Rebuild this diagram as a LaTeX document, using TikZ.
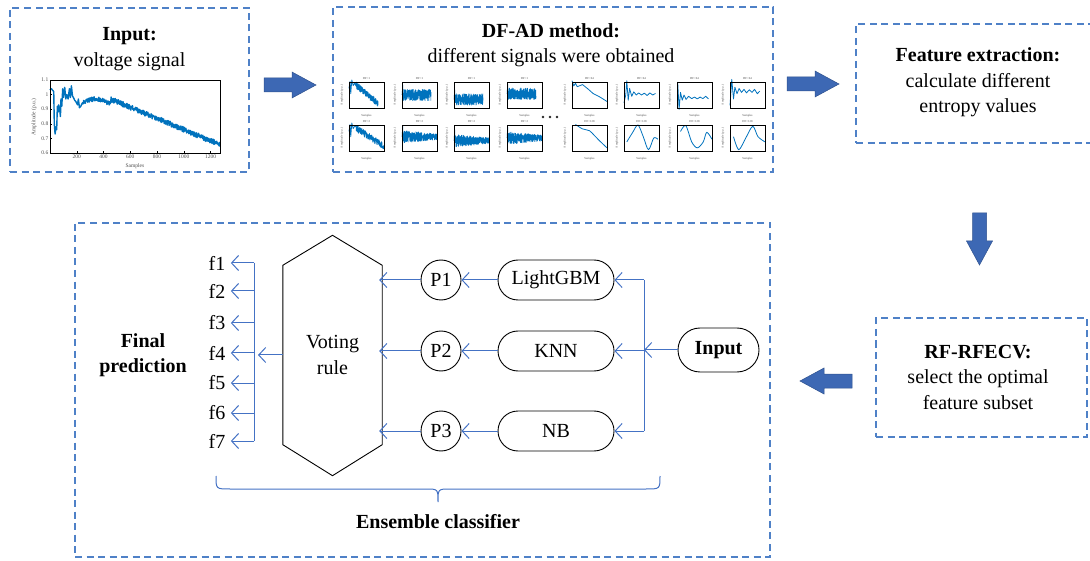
\documentclass[tikz,border=0pt]{standalone}
\usepackage{fontspec}
\setmainfont{Liberation Serif}
\usetikzlibrary{positioning,arrows.meta,calc}

\definecolor{dashblue}{RGB}{79,129,199}
\definecolor{lineblue}{RGB}{68,114,196}
\definecolor{arrowblue}{RGB}{61,104,180}
\definecolor{arrowedge}{RGB}{47,82,143}
\definecolor{sigblue}{RGB}{0,114,189}

\tikzset{
  dashbox/.style={draw=dashblue, line width=1.1pt, dash pattern=on 7pt off 4.5pt, inner sep=0pt},
  flow/.style={lineblue, line width=1pt, -{Straight Barb[length=7pt,width=15pt]}},
  bus/.style={lineblue, line width=1pt},
  model/.style={draw, line width=0.9pt, rounded corners=20pt, minimum width=116pt, minimum height=40pt},
  pnode/.style={draw, circle, line width=0.9pt, minimum size=40pt, inner sep=0pt},
  fatarrow/.style={fill=arrowblue, draw=arrowedge, line width=0.5pt},
  sig/.style={sigblue, line width=1.4pt, line join=round},
  axfont/.style={font=\fontsize{5.5}{6}\selectfont, text=black!70, inner sep=1.5pt},
  minifont/.style={font=\fontsize{3}{3.5}\selectfont, text=black!70, inner sep=0pt},
}

\newcommand{\blockarrow}[2]{\filldraw[fatarrow, shift={#1}, rotate=#2] (0,-7) -- (28,-7) -- (28,-13) -- (52,0) -- (28,13) -- (28,7) -- (0,7) -- cycle;}

\newcommand{\miniplot}[4]{%
  \begin{scope}[shift={(#1pt,-#2pt)}, x=35pt, y=26pt]
    #4
    \draw[line width=0.5pt] (0,0) rectangle (1,1);
    \node[minifont] at (0.5,1.12) {#3};
    \node[minifont] at (0.5,-0.3) {Samples};
    \node[minifont, rotate=90] at (-0.2,0.5) {Amplitude (p.u.)};
  \end{scope}}

\newcommand{\decaysig}[1]{\draw[sig, line width=0.8pt] (0,0.75) -- (0.03,1.02) -- (0.05,0.55) -- (0.08,1.08) -- (0.12,0.86) -- (0.16,0.96) -- plot[domain=0.2:#1, samples=200] (\x,{0.88-(\x-0.2)*0.7/(#1-0.2)+0.13*rand});}
\newcommand{\noisesig}[2]{\draw[sig, line width=0.6pt] (0,#1) -- (0.02,{#1+0.38}) -- plot[domain=0.03:#2, samples=320] (\x,{#1+0.22*rand});}
\newcommand{\fadesig}[1]{\draw[sig, line width=0.6pt] (0,#1) -- (0.02,{#1+0.42}) -- plot[domain=0.03:1, samples=340] (\x,{#1+0.25*(1-0.55*\x)*rand});}

\begin{document}
\begin{tikzpicture}[x=1pt, y=-1pt, font=\fontsize{20}{25.5}\selectfont]
\pgfmathsetseed{7}
\useasboundingbox (0,0) rectangle (1090,561);

% input signal
\node[dashbox, minimum width=239pt, minimum height=164pt] (inbox) at (129.5,90) {};
\node[align=center] (intitle) at (129.5,49) {\textbf{Input:}\\voltage signal};
\begin{scope}[shift={(50pt,-240.6pt)}, x=0.13386pt, y=146pt]
  \draw[sig] plot coordinates {(0,1.03) (10,1.04) (20,1.03) (28,1.02) (32,0.8) (38,0.73) (45,0.78) (50,0.76) (55,0.92) (60,0.88) (65,0.93) (72,0.9) (78,0.85) (82,0.97) (88,0.92) (95,1.04) (100,0.98) (110,1.05) (118,0.97) (125,1.0) (135,0.97) (145,1.04) (152,0.98) (160,1.06) (168,0.99) (175,0.98) (185,0.96) (195,0.95) (205,0.93) (212,0.97) (220,0.91) (230,0.92) (240,0.94)}
    -- plot[domain=245:450, samples=100] (\x,{0.94+0.03*sin((\x-240)*0.9)+0.015*rand})
    -- plot[domain=455:1270, samples=400] (\x,{0.97-(\x-450)*0.000384+0.018*rand});
  \draw[line width=0.6pt] (0,0.6) rectangle (1270,1.1);
  \foreach \t in {200,400,...,1200} {
    \draw[line width=0.4pt] (\t,0.6) -- ++(0,0.015);
    \node[axfont, below] at (\t,0.6) {\t};
  }
  \foreach \v/\lab in {0.6/0.6,0.7/0.7,0.8/0.8,0.9/0.9,1/1,1.1/1.1} {
    \draw[line width=0.4pt] (0,\v) -- ++(15,0);
    \node[axfont, left] at (0,\v) {\lab};
  }
\end{scope}
\node[axfont] (inxlab) at (135,166) {Samples};
\node[axfont, rotate=90] (inylab) at (34,117) {Amplitude (p.u.)};

% DF-AD signals
\node[dashbox, minimum width=440pt, minimum height=165pt] (dfbox) at (553,89.5) {};
\node[align=center] (dftitle) at (551,45) {\textbf{DF-AD method:}\\different signals were obtained};
\miniplot{349}{108}{DF=1}{\decaysig{0.83}}
\miniplot{402}{108}{DF=1}{\noisesig{0.5}{0.83}}
\miniplot{454}{108}{DF=1}{\noisesig{0.33}{0.83}}
\miniplot{507}{108}{DF=1}{\noisesig{0.55}{0.83}}
\miniplot{349}{151}{DF=2}{\decaysig{1}}
\miniplot{402}{151}{DF=2}{\fadesig{0.55}}
\miniplot{454}{151}{DF=2}{\fadesig{0.4}}
\miniplot{507}{151}{DF=2}{\fadesig{0.5}}
\miniplot{572}{108}{DF=64}{\draw[sig, line width=0.8pt] (0,1.05) -- (0.05,0.85) -- (0.1,0.95) -- (0.15,0.82) -- (0.3,0.9) -- (0.45,0.74) -- (0.6,0.56) -- (0.8,0.42) -- (1,0.25);}
\miniplot{624}{108}{DF=64}{\draw[sig, line width=0.8pt] (0,0.2) -- (0.05,0.5) -- (0.08,1.05) -- (0.12,0.3) -- (0.16,0.75) -- (0.22,0.45) -- (0.28,0.62) -- (0.35,0.5) -- (0.42,0.58) -- (0.5,0.5) -- (0.58,0.57) -- (0.66,0.48) -- (0.74,0.58) -- (0.82,0.5) -- (0.9,0.56);}
\miniplot{677}{108}{DF=64}{\draw[sig, line width=0.8pt] (0.02,1) -- (0.06,-0.05) -- (0.1,0.6) -- (0.15,0.3) -- (0.2,0.5) -- (0.26,0.33) -- (0.33,0.45) -- (0.42,0.36) -- (0.5,0.42) -- (0.58,0.35) -- (0.66,0.42) -- (0.74,0.36) -- (0.82,0.45) -- (0.9,0.35);}
\miniplot{730}{108}{DF=64}{\draw[sig, line width=0.8pt] (0,0.1) -- (0.05,1.1) -- (0.1,0.35) -- (0.14,0.8) -- (0.2,0.55) -- (0.26,0.75) -- (0.33,0.6) -- (0.4,0.72) -- (0.47,0.58) -- (0.55,0.7) -- (0.63,0.6) -- (0.7,0.72) -- (0.78,0.55) -- (0.85,0.65);}
\miniplot{572}{151}{DF=128}{\draw[sig, line width=0.8pt] plot[smooth] coordinates {(0.1,1.02) (0.3,0.85) (0.5,0.78) (0.65,0.58) (0.82,0.35) (1,0.12)};}
\miniplot{624}{151}{DF=128}{\draw[sig, line width=0.8pt] plot[smooth] coordinates {(0.08,0.35) (0.25,0.72) (0.4,1) (0.55,0.55) (0.7,0.05) (0.85,0.5) (0.97,0.45)};}
\miniplot{677}{151}{DF=128}{\draw[sig, line width=0.8pt] plot[smooth] coordinates {(0.1,0.75) (0.25,0.98) (0.42,0.35) (0.58,0.12) (0.75,0.35) (0.85,0.72) (1,0.45)};}
\miniplot{730}{151}{DF=128}{\draw[sig, line width=0.8pt] plot[smooth] coordinates {(0.1,0.55) (0.25,0.05) (0.45,0.5) (0.65,0.95) (0.8,0.55) (1,0.35)};}
\foreach \d in {543,550,557} \fill[black!85] (\d,117) circle (1.4);

% feature extraction and selection
\node[dashbox, minimum width=244pt, minimum height=119pt] (featbox) at (978,83.5) {};
\node[align=center] (feattext) at (978,82.5) {\textbf{Feature extraction:}\\calculate different\\entropy values};
\node[dashbox, minimum width=211pt, minimum height=119pt] (selbox) at (981.5,377.5) {};
\node[align=center] (seltext) at (978,377) {\textbf{RF-RFECV:}\\select the optimal\\feature subset};

\blockarrow{(264,85)}{0}
\blockarrow{(787,84)}{0}
\blockarrow{(979.5,213)}{-90}
\blockarrow{(852,381)}{180}

% ensemble classifier
\node[dashbox, minimum width=695pt, minimum height=334pt] (ensbox) at (422.5,390) {};
\node[align=center, font=\fontsize{20}{25.5}\selectfont\bfseries] (final) at (143,355) {Final\\prediction};
\foreach \i/\yy in {1/263,2/291,3/323,4/353,5/383,6/413,7/441}
  \node (f\i) at (217,\yy) {f\i};
\coordinate (fbus) at (254,353);
\draw[bus] (f1 -| fbus) -- (f7 -| fbus);
\foreach \i in {1,...,7}
  \draw[flow, shorten >=2pt] (f\i -| fbus) -- (f\i.east);

\node[align=center, minimum width=99pt, minimum height=179pt] (vote) at (332.5,355) {Voting\\rule};
\draw[line width=0.9pt] (vote.south west) -- (vote.north west) -- ([yshift=30pt]vote.north) -- (vote.north east) -- (vote.south east) -- ([yshift=-31pt]vote.south) -- cycle;

\node[pnode] (p1) at (441,280) {P1};
\node[pnode] (p2) at (441,351) {P2};
\node[pnode] (p3) at (441,431) {P3};
\node[model] (lgbm) at (556,280) {LightGBM};
\node[model] (knn) at (556,351) {KNN};
\node[model] (nb) at (556,431) {NB};
\node[draw, line width=0.9pt, rounded corners=22pt, minimum width=81pt, minimum height=44pt, font=\fontsize{20}{25.5}\selectfont\bfseries] (inp) at (718.5,350) {Input};

\coordinate (ibus) at (644,350);
\draw[bus] (ibus |- lgbm) -- (ibus |- nb);
\draw[flow] (inp.west) -- (ibus);
\foreach \m in {lgbm,knn,nb}
  \draw[flow] (ibus |- \m) -- (\m.east);
\foreach \m/\p in {lgbm/p1,knn/p2,nb/p3}
  \draw[flow] (\m.west) -- (\p.east);
\foreach \p in {p1,p2,p3}
  \draw[flow, shorten >=-3pt] (\p.west) -- (\p.west -| vote.east);
\draw[flow, shorten >=4pt] (vote.west) -- (vote.west -| fbus);

\coordinate (bl) at (216,476);
\coordinate (br) at (660,476);
\coordinate (btip) at (438,502);
\draw[lineblue, line width=1pt] (bl) .. controls (216,489) .. (230,489) -- ([xshift=-12pt]btip |- 0,489) .. controls (btip |- 0,489) .. (btip)
  .. controls (btip |- 0,489) .. ([xshift=12pt]btip |- 0,489) -- (646,489) .. controls (660,489) .. (br);
\node[font=\fontsize{20}{25.5}\selectfont\bfseries] (enslabel) at (438,522) {Ensemble classifier};
\end{tikzpicture}
\end{document}
